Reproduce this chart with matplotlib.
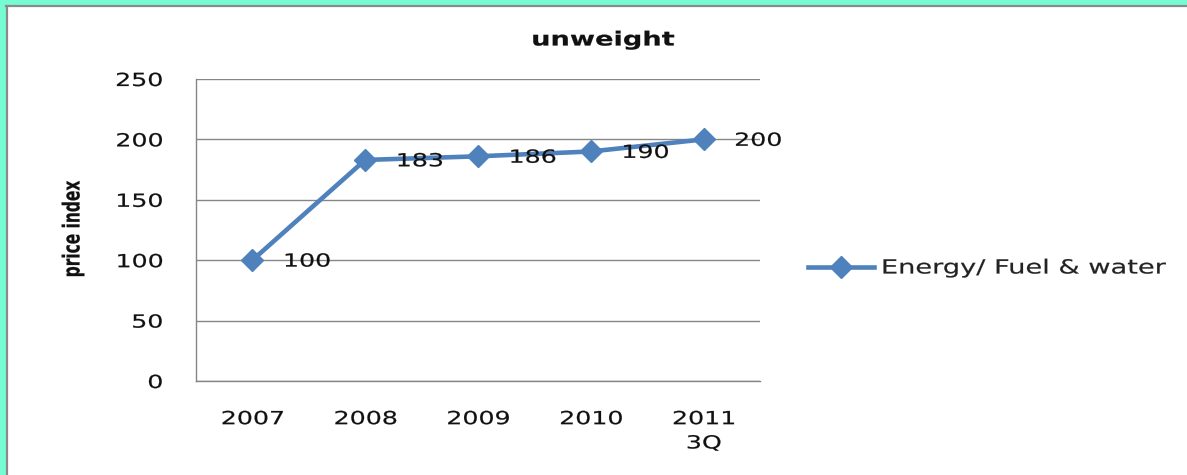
import matplotlib
matplotlib.use("Agg")
import matplotlib.pyplot as plt
from matplotlib.patches import Rectangle
from matplotlib.lines import Line2D
from matplotlib.patheffects import AbstractPathEffect
from matplotlib.transforms import Affine2D

# === Data ===
years = ["2007", "2008", "2009", "2010", "2011\n3Q"]
energy_index = [100, 183, 186, 190, 200]
series_name = "Energy/ Fuel & water"

LINE_COLOR = "#4F81BD"
GRID_COLOR = "#868686"
TEXT_COLOR = "#111111"
SX = 1.4  # horizontal widening of the text glyphs


class Stretch(AbstractPathEffect):
    """Widen a text path along its baseline (anchor 0=left, .5=center, 1=right stays put),
    optionally scale it across the baseline, and give the glyphs a slightly heavier stroke."""

    def __init__(self, sx, anchor=0.0, sy=1.0, stroke=0.15):
        super().__init__()
        self.sx = sx
        self.sy = sy
        self.anchor = anchor
        self.stroke = stroke

    def draw_path(self, renderer, gc, tpath, affine, rgbFace=None):
        v = tpath.vertices
        if len(v):
            cx = v[:, 0].min() + self.anchor * (v[:, 0].max() - v[:, 0].min())
            cy = 0.5 * (v[:, 1].min() + v[:, 1].max())
        else:
            cx = cy = 0
        t = Affine2D().translate(-cx, -cy).scale(self.sx, self.sy).translate(cx, cy)
        gc0 = renderer.new_gc()
        gc0.copy_properties(gc)
        if rgbFace is not None:
            gc0.set_foreground(rgbFace)
        gc0.set_linewidth(self.stroke)
        renderer.draw_path(gc0, tpath, t + affine, rgbFace)
        gc0.restore()


def widen(texts, anchor, sx=SX, sy=1.0):
    for t in texts:
        t.set_path_effects([Stretch(sx, anchor, sy)])


fig = plt.figure(figsize=(11.87, 4.75), dpi=100)
fig.patch.set_facecolor("white")

# === Frame round the chart (green band + grey edge) ===
W, H = 1187, 475
fig.patches.append(Rectangle((0, 1 - 5 / H), 1, 5 / H, transform=fig.transFigure,
                             facecolor="#76FCD2", edgecolor="none", zorder=0))
fig.patches.append(Rectangle((0, 0), 6 / W, 1, transform=fig.transFigure,
                             facecolor="#76FCD2", edgecolor="none", zorder=0))
fig.lines.append(Line2D([6 / W, 1], [1 - 6 / H, 1 - 6 / H], transform=fig.transFigure,
                        color="#8A8A8A", lw=1.6))
fig.lines.append(Line2D([7 / W, 7 / W], [0, 1 - 6 / H], transform=fig.transFigure,
                        color="#8A8A8A", lw=1.6))

# === Plot area ===
ax = fig.add_axes([196 / W, 1 - 381 / H, (760 - 196) / W, (381 - 79) / H])
x = list(range(len(years)))
line, = ax.plot(x, energy_index, color=LINE_COLOR, lw=3.3, marker="D",
                markersize=11, solid_joinstyle="miter", zorder=3)

value_labels = []
for xi, v in zip(x, energy_index):
    a = ax.annotate(str(v), (xi, v), xytext=(22, -1), textcoords="offset points",
                    ha="left", va="center", fontsize=13, color=TEXT_COLOR, zorder=4)
    value_labels.append(a)
widen(value_labels, 0.0)

ax.set_xlim(-0.5, 4.5)
ax.set_ylim(0, 250)
ax.set_yticks(range(0, 251, 50))
ax.set_xticks(x)
ax.set_xticklabels(years, fontsize=13, color=TEXT_COLOR, linespacing=1.45)
ax.tick_params(axis="y", labelsize=13, labelcolor=TEXT_COLOR, length=0, pad=24)
ax.tick_params(axis="x", length=0, pad=21)
widen(ax.get_xticklabels(), 0.5)
widen(ax.get_yticklabels(), 1.0)

ax.grid(axis="y", color=GRID_COLOR, lw=1)
ax.set_axisbelow(True)
for side in ["top", "right"]:
    ax.spines[side].set_visible(False)
for side in ["left", "bottom"]:
    ax.spines[side].set_color(GRID_COLOR)
    ax.spines[side].set_linewidth(1)

title = fig.text(603 / W, 1 - 40 / H, "unweight", ha="center", va="center",
                 fontsize=14, fontweight="bold", color=TEXT_COLOR)
widen([title], 0.5)
ylab = fig.text(73 / W, 1 - 229 / H, "price index", ha="center", va="center",
                rotation=90, fontsize=13, fontweight="bold", stretch="condensed",
                family="DejaVu Sans", color=TEXT_COLOR)
widen([ylab], 0.5, sx=0.95, sy=1.3)

leg = fig.legend([line], [series_name], loc="center left",
                 bbox_to_anchor=(808 / W, 1 - 268 / H), frameon=False, fontsize=14,
                 handlelength=3.4, handletextpad=0.35, borderpad=0, borderaxespad=0,
                 labelcolor="#222222")
widen(leg.get_texts(), 0.0)

fig.savefig("out.png", dpi=100, facecolor="white")
